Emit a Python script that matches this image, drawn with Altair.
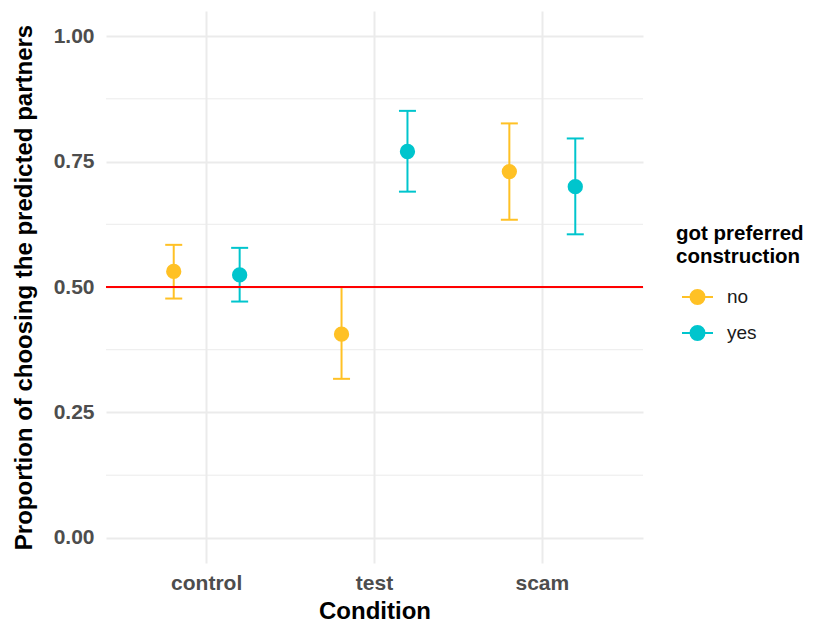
import altair as alt
import pandas as pd

# ---- data ----
conditions = ["control", "control", "test", "test", "scam", "scam"]
groups = ["no", "yes", "no", "yes", "no", "yes"]
means = [0.531, 0.524, 0.406, 0.770, 0.730, 0.700]
lowers = [0.477, 0.471, 0.317, 0.690, 0.634, 0.605]
uppers = [0.584, 0.578, 0.500, 0.851, 0.826, 0.796]

condition_order = ["control", "test", "scam"]
group_order = ["no", "yes"]
group_colors = ["#FFC125", "#00C5CD"]
y_major_ticks = [0.0, 0.25, 0.5, 0.75, 1.0]
y_minor_ticks = [0.125, 0.375, 0.625, 0.875]
reference_line = [0.5]

df = pd.DataFrame({
    "condition": conditions,
    "group": groups,
    "mean": means,
    "lower": lowers,
    "upper": uppers,
})

FONT = "Liberation Sans"
GRID = "#EBEBEB"

color_scale = alt.Scale(domain=group_order, range=group_colors)
y_scale = alt.Scale(domain=[-0.05, 1.05], nice=False, zero=False)

SYMBOL = "M-1,0H1M-0.45,0A0.45,0.45,0,1,1,0.45,0A0.45,0.45,0,1,1,-0.45,0Z"

legend = alt.Legend(
    title=["got preferred", "construction"],
    orient="none",
    legendX=570,
    legendY=213,
    padding=0,
    titleFont=FONT,
    titleFontSize=20.5,
    titleFontWeight="bold",
    titleColor="#000000",
    titleLineHeight=23,
    titlePadding=13,
    labelFont=FONT,
    labelFontSize=19,
    labelColor="#1A1A1A",
    labelOffset=13,
    symbolType=SYMBOL,
    symbolSize=961,
    symbolStrokeWidth=2,
    symbolOpacity=1,
    symbolOffset=5,
    rowPadding=8,
)

x_axis = alt.Axis(
    title="Condition",
    labelAngle=0,
    grid=True,
    bandPosition=0.5,
    gridColor=GRID,
    gridWidth=2,
    domain=False,
    ticks=False,
    labelFont=FONT,
    labelFontSize=21,
    labelFontWeight="bold",
    labelColor="#4D4D4D",
    labelPadding=9,
    titleFont=FONT,
    titleFontSize=24,
    titleFontWeight="bold",
    titleColor="#000000",
    titlePadding=6,
)

y_axis = alt.Axis(
    title="Proportion of choosing the predicted partners",
    values=y_major_ticks,
    format=".2f",
    grid=True,
    gridColor=GRID,
    gridWidth=2,
    domain=False,
    ticks=False,
    labelFont=FONT,
    labelFontSize=21,
    labelFontWeight="bold",
    labelColor="#4D4D4D",
    labelPadding=12,
    titleFont=FONT,
    titleFontSize=24,
    titleFontWeight="bold",
    titleColor="#000000",
    titlePadding=17,
)

x_enc = alt.X("condition:N", sort=condition_order,
              scale=alt.Scale(paddingInner=0, paddingOuter=0.1), axis=x_axis)
xoff_enc = alt.XOffset("group:N", sort=group_order,
                       scale=alt.Scale(domain=group_order, paddingInner=0, paddingOuter=0.2727))
fill_enc = alt.Fill("group:N", scale=color_scale, legend=legend)
stroke_enc = alt.Stroke("group:N", scale=color_scale, legend=legend)

base = alt.Chart(df)

minor = alt.Chart(pd.DataFrame({"v": y_minor_ticks})).mark_rule(
    color=GRID, strokeWidth=1
).encode(y=alt.Y("v:Q", scale=y_scale, axis=y_axis))

bars = base.mark_rule(strokeWidth=2).encode(
    x=x_enc, xOffset=xoff_enc,
    y=alt.Y("lower:Q", scale=y_scale, axis=y_axis),
    y2="upper:Q",
    stroke=stroke_enc,
)

cap_lo = base.mark_tick(size=17, thickness=2, opacity=1).encode(
    x=x_enc, xOffset=xoff_enc,
    y=alt.Y("lower:Q", scale=y_scale, axis=y_axis),
    fill=fill_enc,
)

cap_hi = base.mark_tick(size=17, thickness=2, opacity=1).encode(
    x=x_enc, xOffset=xoff_enc,
    y=alt.Y("upper:Q", scale=y_scale, axis=y_axis),
    fill=fill_enc,
)

points = base.mark_point(filled=True, size=177, opacity=1, strokeWidth=2, shape="circle").encode(
    x=x_enc, xOffset=xoff_enc,
    y=alt.Y("mean:Q", scale=y_scale, axis=y_axis),
    fill=fill_enc,
    stroke=stroke_enc,
)

ref = alt.Chart(pd.DataFrame({"ref": reference_line})).mark_rule(
    color="#FF0000", strokeWidth=2
).encode(y=alt.Y("ref:Q", scale=y_scale, axis=y_axis))

chart = alt.layer(minor, bars, cap_lo, cap_hi, points, ref).properties(
    width=537,
    height=552,
    autosize=alt.AutoSizeParams(type="none"),
    padding={"left": 98, "top": 3, "right": 162, "bottom": 61},
).configure(background="white").configure_view(stroke=None)

chart.save("out.html", embed_options={"renderer": "svg", "actions": False})
